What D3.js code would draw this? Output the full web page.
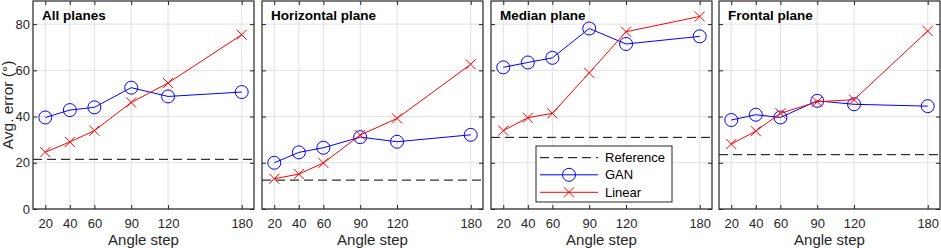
<!DOCTYPE html>
<html lang="en">
<head>
<meta charset="UTF-8">
<title>Avg. error vs angle step</title>
<script src="https://d3js.org/d3.v7.min.js"></script>
<style>
    body { margin: 0; background: #fff; }
    text { font-family: "Liberation Sans", Arial, Helvetica, sans-serif; }
</style>
</head>
<body>
<script>
    const steps = [20, 40, 60, 90, 120, 180];
    const panels = ["All planes", "Horizontal plane", "Median plane", "Frontal plane"];
    const ganValues = [
        [39.6, 42.8, 44.0, 52.5, 48.7, 50.6],
        [20.0, 24.5, 26.5, 31.1, 29.1, 32.1],
        [61.3, 63.4, 65.4, 78.1, 71.4, 74.7],
        [38.5, 40.8, 39.6, 46.8, 45.3, 44.5]
    ];
    const linearValues = [
        [24.6, 29.0, 33.9, 46.1, 54.5, 75.4],
        [13.1, 15.1, 19.9, 32.0, 39.2, 62.6],
        [33.9, 39.5, 41.4, 58.9, 76.7, 83.3],
        [28.1, 33.7, 41.4, 46.4, 47.3, 77.0]
    ];
    const referenceValues = [21.5, 12.5, 31.0, 23.5];
    const yTicks = [0, 20, 40, 60, 80];
    const legendLabels = ["Reference", "GAN", "Linear"];

    const W = 941, H = 248;
    const lefts = [33, 262, 491, 719];
    const pw = 221, plotTop = 1, plotBottom = 209;

    const svg = d3.select("body").append("svg")
        .attr("width", W).attr("height", H);

    const y = d3.scaleLinear().domain([0, 90]).range([plotBottom, plotTop]);

    panels.forEach(function (title, i) {
        const x = d3.scaleLinear().domain([10, 190]).range([0, pw]);
        const g = svg.append("g").attr("transform", `translate(${lefts[i]},0)`);

        // grid
        g.append("g").selectAll("line").data(steps).enter().append("line")
            .attr("x1", d => x(d)).attr("x2", d => x(d))
            .attr("y1", plotTop).attr("y2", plotBottom)
            .attr("stroke", "#e0e0e0").attr("stroke-width", 1);
        g.append("g").selectAll("line").data(yTicks).enter().append("line")
            .attr("x1", 0).attr("x2", pw)
            .attr("y1", d => y(d)).attr("y2", d => y(d))
            .attr("stroke", "#e0e0e0").attr("stroke-width", 1);

        // axes (inward ticks)
        const xAxis = g.append("g")
            .attr("transform", `translate(0,${plotBottom})`)
            .call(d3.axisBottom(x).tickValues(steps).tickSize(-4).tickPadding(10));
        const yAxis = g.append("g")
            .call(d3.axisLeft(y).tickValues(yTicks).tickSize(-4).tickPadding(3));
        g.append("g").attr("transform", `translate(${pw},0)`)
            .call(d3.axisRight(y).tickValues(yTicks).tickSize(-4).tickFormat(""));
        g.append("g").attr("transform", `translate(0,${plotTop})`)
            .call(d3.axisTop(x).tickValues(steps).tickSize(-4).tickFormat(""));
        g.selectAll(".domain").remove();
        g.selectAll(".tick line").attr("stroke", "#262626");
        xAxis.selectAll("text").style("font-size", "13px").attr("fill", "#262626");
        yAxis.selectAll("text").style("font-size", "13px").attr("fill", "#262626");
        if (i > 0) yAxis.selectAll("text").remove();

        // reference line
        g.append("line")
            .attr("x1", 0).attr("x2", pw)
            .attr("y1", y(referenceValues[i])).attr("y2", y(referenceValues[i]))
            .attr("stroke", "#000").attr("stroke-width", 1)
            .attr("stroke-dasharray", "9,5");

        const line = d3.line().x(d => x(d[0])).y(d => y(d[1]));
        const gan = steps.map((s, j) => [s, ganValues[i][j]]);
        const lin = steps.map((s, j) => [s, linearValues[i][j]]);

        g.append("path").datum(gan)
            .attr("fill", "none").attr("stroke", "#0000ff").attr("stroke-width", 1)
            .attr("d", line);
        g.selectAll(".gan").data(gan).enter().append("circle")
            .attr("cx", d => x(d[0])).attr("cy", d => y(d[1])).attr("r", 6.5)
            .attr("fill", "none").attr("stroke", "#0000ff").attr("stroke-width", 1);

        g.append("path").datum(lin)
            .attr("fill", "none").attr("stroke", "#ff0000").attr("stroke-width", 1)
            .attr("d", line);
        g.selectAll(".lin").data(lin).enter().append("path")
            .attr("transform", d => `translate(${x(d[0])},${y(d[1])})`)
            .attr("d", "M-5,-5L5,5M-5,5L5,-5")
            .attr("fill", "none").attr("stroke", "#ff0000").attr("stroke-width", 1);

        // frame
        g.append("rect")
            .attr("x", 0).attr("y", plotTop).attr("width", pw).attr("height", plotBottom - plotTop)
            .attr("fill", "none").attr("stroke", "#262626").attr("stroke-width", 1.2);

        // title
        g.append("text")
            .attr("x", 9).attr("y", 20)
            .style("font-size", "13.5px").style("font-weight", "bold")
            .attr("fill", "#000")
            .text(title);

        // x label
        g.append("text")
            .attr("x", pw / 2).attr("y", 245)
            .attr("text-anchor", "middle")
            .style("font-size", "15px").attr("fill", "#262626")
            .text("Angle step");

        // legend in median plane panel
        if (i === 2) {
            const lg = g.append("g");
            const lx = 536 - lefts[i], ly = 146;
            lg.append("rect")
                .attr("x", lx).attr("y", ly).attr("width", 136).attr("height", 56)
                .attr("fill", "#fff").attr("stroke", "#262626").attr("stroke-width", 1);
            const rows = [157.7, 174.8, 192.3];
            legendLabels.forEach(function (lab, k) {
                const ry = rows[k];
                const ln = lg.append("line")
                    .attr("x1", lx + 4).attr("x2", lx + 62)
                    .attr("y1", ry).attr("y2", ry).attr("stroke-width", 1);
                if (k === 0) ln.attr("stroke", "#000").attr("stroke-dasharray", "9,5");
                if (k === 1) {
                    ln.attr("stroke", "#0000ff");
                    lg.append("circle").attr("cx", lx + 33).attr("cy", ry).attr("r", 6.5)
                        .attr("fill", "none").attr("stroke", "#0000ff");
                }
                if (k === 2) {
                    ln.attr("stroke", "#ff0000");
                    lg.append("path").attr("transform", `translate(${lx + 33},${ry})`)
                        .attr("d", "M-5,-5L5,5M-5,5L5,-5")
                        .attr("fill", "none").attr("stroke", "#ff0000");
                }
                lg.append("text")
                    .attr("x", lx + 69).attr("y", ry + 4.5)
                    .style("font-size", "13px").attr("fill", "#000")
                    .text(lab);
            });
        }
    });

    // y label
    svg.append("text")
        .attr("transform", `translate(13,${(plotTop + plotBottom) / 2}) rotate(-90)`)
        .attr("text-anchor", "middle")
        .style("font-size", "15.5px").attr("fill", "#262626")
        .text("Avg. error (°)");
</script>
</body>
</html>
